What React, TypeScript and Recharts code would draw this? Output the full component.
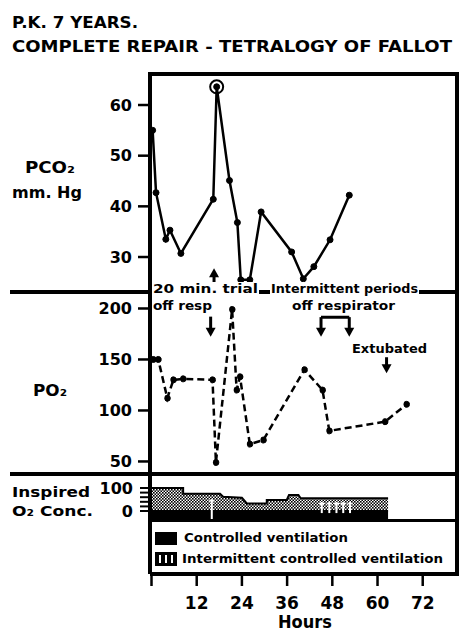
import React from 'react';
import {
  LineChart,
  Line,
  XAxis,
  YAxis,
  ReferenceDot,
  ReferenceLine,
  ComposedChart,
  Area,
} from 'recharts';

// ---------- data ----------
const xDomain: [number, number] = [-0.4, 81.1];
const hourTicks = [0, 12, 24, 36, 48, 60, 72];

const pco2Hours = [0.3, 1.2, 3.8, 4.9, 7.8, 16.4, 17.3, 20.7, 22.8, 23.7, 26.1, 29.1, 37.2, 40.3, 43.1, 47.4, 52.5];
const pco2Values = [55, 42.7, 33.5, 35.3, 30.7, 41.4, 63.6, 45.1, 36.8, 25.5, 25.5, 38.9, 31, 25.7, 28.1, 33.4, 42.2];
const pco2Ticks = [30, 40, 50, 60];

const po2Hours = [0.5, 1.8, 4.2, 5.8, 8.4, 16.2, 17.1, 21.4, 22.6, 23.5, 26.1, 29.7, 40.6, 45.4, 47.2, 62, 67.7];
const po2Values = [150, 150, 112, 130, 131, 130, 49, 199, 120, 133, 67, 71, 140, 120, 80, 89, 106];
const po2Ticks = [50, 100, 150, 200];

const o2Hours = [0, 8.4, 8.4, 18.2, 19, 24, 25.3, 30.6, 30.6, 35.9, 36.5, 39, 39.6, 62.8];
const o2Values = [100, 100, 75, 75, 62, 58, 33, 33, 48, 48, 70, 70, 55, 55];
const o2Ticks = [0, 20, 40, 60, 80, 100];
const o2TickLabels = [0, 100];

const markHours = [16.0, 45.2, 47.2, 49.1, 50.9, 52.7];
const markTops = [52, 40, 40, 40, 40, 40];
const markBottoms = [-40, -9, -9, -9, -9, -9];

const pco2Rows = pco2Hours.map((h, i) => ({ h, v: pco2Values[i] }));
const po2Rows = po2Hours.map((h, i) => ({ h, v: po2Values[i] }));
const o2Rows = o2Hours.map((h, i) => ({ h, o2: [0, o2Values[i]], band: [-40, 0] }));

// ---------- styles ----------
const FONT = '"DejaVu Sans", "Liberation Sans", sans-serif';
const tickStyle = { fill: '#000', fontSize: 16, fontWeight: 700, fontFamily: FONT };
const axisLineStyle = { stroke: '#000', strokeWidth: 4 };
const tickLineStyle = { stroke: '#000', strokeWidth: 2.5 };

const downArrow = (len: number) => (props: any) => {
  const { cx, cy } = props;
  return (
    <g>
      <line x1={cx} y1={cy - len} x2={cx} y2={cy - 6} stroke="#000" strokeWidth={3} />
      <polygon points={`${cx - 5},${cy - 9} ${cx + 5},${cy - 9} ${cx},${cy}`} fill="#000" />
    </g>
  );
};
const upArrow = (len: number) => (props: any) => {
  const { cx, cy } = props;
  return (
    <g>
      <line x1={cx} y1={cy + len} x2={cx} y2={cy + 6} stroke="#000" strokeWidth={3} />
      <polygon points={`${cx - 5},${cy + 9} ${cx + 5},${cy + 9} ${cx},${cy}`} fill="#000" />
    </g>
  );
};

const T = (p: any) => <text fontFamily={FONT} fontWeight={700} fill="#000" {...p} />;

function MaskedText({ x, y, w, children, size = 13 }: any) {
  return (
    <g>
      <rect x={x - 1} y={y - 11} width={w + 2} height={14} fill="#fff" />
      <T x={x} y={y} fontSize={size} textLength={w} lengthAdjust="spacingAndGlyphs">
        {children}
      </T>
    </g>
  );
}

export default function App() {
  return (
    <div style={{ position: 'absolute', left: 0, top: 0, width: 461, height: 633, background: '#fff', overflow: 'hidden' }}>
      <svg width={0} height={0} style={{ position: 'absolute' }}>
        <defs>
          <pattern id="stipple" width="3" height="3" patternUnits="userSpaceOnUse">
            <rect width="3" height="3" fill="#fff" />
            <rect width="1.6" height="1.6" fill="#000" />
            <rect x="1.5" y="1.5" width="1.6" height="1.6" fill="#000" />
          </pattern>
        </defs>
      </svg>

      {/* PCO2 panel */}
      <div style={{ position: 'absolute', left: 0, top: 0 }}>
        <LineChart width={461} height={294} data={pco2Rows} margin={{ top: 74, right: 4, left: 0, bottom: 0 }}>
          <XAxis dataKey="h" type="number" domain={xDomain} hide />
          <YAxis
            type="number"
            domain={[22.7, 66.12]}
            ticks={pco2Ticks}
            width={150}
            axisLine={axisLineStyle}
            tickLine={tickLineStyle}
            tickSize={12}
            tickMargin={6}
            tick={tickStyle}
            allowDataOverflow
          />
          <Line
            dataKey="v"
            stroke="#000"
            strokeWidth={2.5}
            dot={{ r: 3, fill: '#000', stroke: '#000', strokeWidth: 1 }}
            isAnimationActive={false}
          />
          <ReferenceDot x={17.3} y={63.6} r={6.5} fill="none" stroke="#000" strokeWidth={2} />
          <ReferenceDot x={16.6} y={27.8} shape={upArrow(14)} />
        </LineChart>
      </div>

      {/* PO2 panel */}
      <div style={{ position: 'absolute', left: 0, top: 294 }}>
        <LineChart width={461} height={180} data={po2Rows} margin={{ top: 0, right: 4, left: 0, bottom: 0 }}>
          <XAxis dataKey="h" type="number" domain={xDomain} hide />
          <YAxis
            type="number"
            domain={[37.7, 214.2]}
            ticks={po2Ticks}
            width={150}
            axisLine={axisLineStyle}
            tickLine={tickLineStyle}
            tickSize={12}
            tickMargin={6}
            tick={tickStyle}
            allowDataOverflow
          />
          <Line
            dataKey="v"
            stroke="#000"
            strokeWidth={2.5}
            strokeDasharray="7 4"
            dot={{ r: 3, fill: '#000', stroke: '#000', strokeWidth: 1 }}
            isAnimationActive={false}
          />
          <ReferenceDot x={15.7} y={172.4} shape={downArrow(20)} />
          <ReferenceLine segment={[{ x: 45.0, y: 191.4 }, { x: 52.5, y: 191.4 }]} stroke="#000" strokeWidth={3} />
          <ReferenceDot x={45.0} y={172.4} shape={downArrow(19.5)} />
          <ReferenceDot x={52.5} y={172.4} shape={downArrow(19.5)} />
          <ReferenceDot x={62.4} y={136.5} shape={downArrow(16)} />
        </LineChart>
      </div>

      {/* Inspired O2 panel + x axis */}
      <div style={{ position: 'absolute', left: 0, top: 474 }}>
        <ComposedChart width={461} height={159} data={o2Rows} margin={{ top: 0, right: 4, left: 0, bottom: 0 }}>
          <XAxis
            dataKey="h"
            type="number"
            domain={xDomain}
            ticks={hourTicks}
            tickFormatter={(v: number) => (v === 0 ? '' : String(v))}
            height={59}
            axisLine={axisLineStyle}
            tickLine={tickLineStyle}
            tickSize={12}
            tickMargin={11}
            tick={{ ...tickStyle, fontSize: 17 }}
            allowDataOverflow
          />
          <YAxis
            type="number"
            domain={[-273.9, 160.9]}
            ticks={o2Ticks}
            tickFormatter={(v: number) => (o2TickLabels.includes(v) ? String(v) : '')}
            width={150}
            axisLine={axisLineStyle}
            tickLine={{ stroke: '#000', strokeWidth: 2 }}
            tickSize={10}
            tickMargin={7}
            tick={tickStyle}
            interval={0}
            allowDataOverflow
          />
          <Area dataKey="band" type="linear" stroke="none" fill="#000" fillOpacity={1} isAnimationActive={false} />
          <Area dataKey="o2" type="linear" stroke="#000" strokeWidth={2} fill="url(#stipple)" fillOpacity={1} isAnimationActive={false} />
          {markHours.map((h, i) => (
            <ReferenceLine
              key={'mv' + i}
              segment={[{ x: h, y: markTops[i] }, { x: h, y: markBottoms[i] }]}
              stroke="#fff"
              strokeWidth={2}
            />
          ))}
          {markHours.map((h, i) => (
            <ReferenceLine
              key={'mh' + i}
              segment={[{ x: h - 0.7, y: markTops[i] - 8 }, { x: h + 0.7, y: markTops[i] - 8 }]}
              stroke="#fff"
              strokeWidth={1.5}
            />
          ))}
        </ComposedChart>
      </div>

      {/* frame, labels, annotations, legend */}
      <svg width={461} height={633} style={{ position: 'absolute', left: 0, top: 0, pointerEvents: 'none' }}>
        {/* frame */}
        <line x1={148} y1={74} x2={459} y2={74} stroke="#000" strokeWidth={4} />
        <line x1={457} y1={72} x2={457} y2={576} stroke="#000" strokeWidth={4} />
        <line x1={10} y1={292} x2={459} y2={292} stroke="#000" strokeWidth={4} />
        <line x1={10} y1={474} x2={459} y2={474} stroke="#000" strokeWidth={4} />
        <line x1={148} y1={520.5} x2={459} y2={520.5} stroke="#000" strokeWidth={3} />

        {/* title */}
        <T x={12} y={28} fontSize={16} textLength={126} lengthAdjust="spacingAndGlyphs">P.K. 7 YEARS.</T>
        <T x={12} y={52} fontSize={16} textLength={440} lengthAdjust="spacingAndGlyphs">COMPLETE REPAIR - TETRALOGY OF FALLOT</T>

        {/* side labels */}
        <T x={25} y={173} fontSize={16} textLength={50} lengthAdjust="spacingAndGlyphs">PCO₂</T>
        <T x={12} y={198} fontSize={15} textLength={70} lengthAdjust="spacingAndGlyphs">mm. Hg</T>
        <T x={33} y={396} fontSize={16} textLength={34} lengthAdjust="spacingAndGlyphs">PO₂</T>
        <T x={12} y={497} fontSize={14} textLength={78} lengthAdjust="spacingAndGlyphs">Inspired</T>
        <T x={12} y={516} fontSize={14} textLength={81} lengthAdjust="spacingAndGlyphs">O₂ Conc.</T>

        {/* annotations */}
        <MaskedText x={153} y={293} w={105}>20 min. trial</MaskedText>
        <MaskedText x={271} y={293} w={147}>Intermittent periods</MaskedText>
        <T x={153} y={310} fontSize={13} textLength={59} lengthAdjust="spacingAndGlyphs">off resp</T>
        <T x={292} y={310} fontSize={13} textLength={103} lengthAdjust="spacingAndGlyphs">off respirator</T>
        <T x={352} y={353} fontSize={13} textLength={75} lengthAdjust="spacingAndGlyphs">Extubated</T>

        {/* legend */}
        <rect x={155} y={532} width={22} height={13} fill="#000" />
        <T x={184} y={542} fontSize={12.5} textLength={164} lengthAdjust="spacingAndGlyphs">Controlled ventilation</T>
        <rect x={155} y={552} width={22} height={14} fill="#000" />
        <rect x={159} y={555} width={2} height={8} fill="#fff" />
        <rect x={165} y={555} width={2} height={8} fill="#fff" />
        <rect x={171} y={555} width={2} height={8} fill="#fff" />
        <T x={182} y={563} fontSize={12.5} textLength={261} lengthAdjust="spacingAndGlyphs">Intermittent controlled ventilation</T>

        {/* x axis title */}
        <T x={305} y={628} fontSize={17} textAnchor="middle" textLength={54} lengthAdjust="spacingAndGlyphs">Hours</T>
      </svg>
    </div>
  );
}
